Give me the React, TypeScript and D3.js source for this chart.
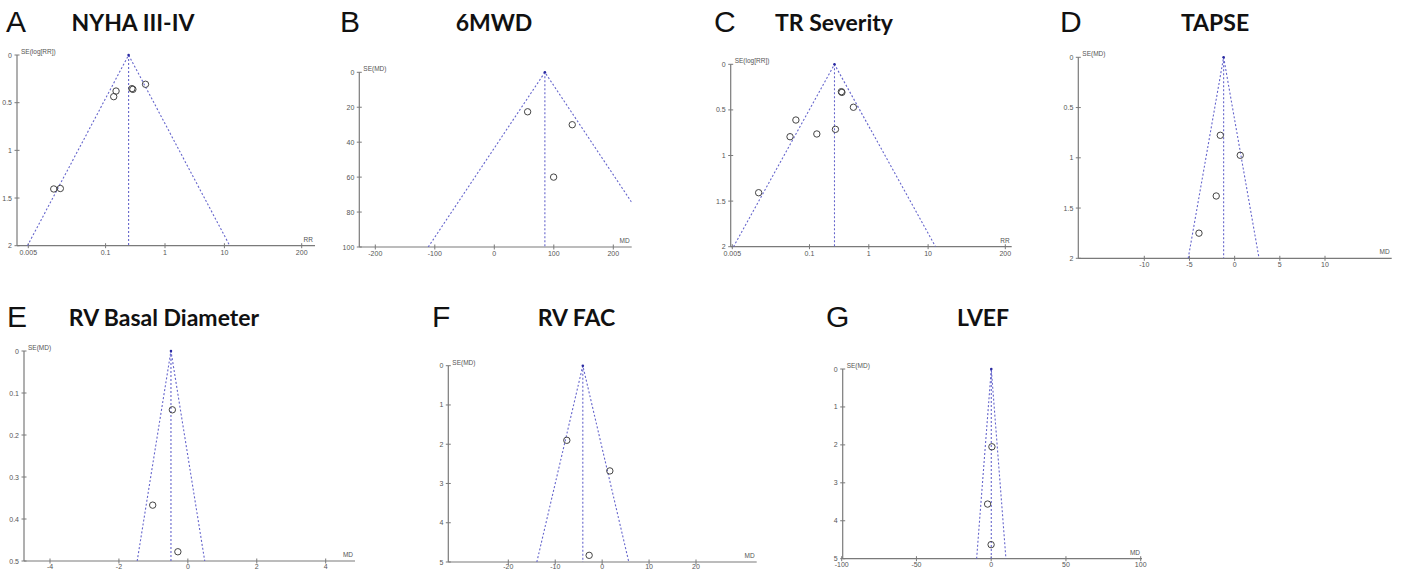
import React from "react";
import * as d3 from "d3";

// ---------- DATA ----------
const nyhaRR = [0.0134, 0.0173, 0.137, 0.15, 0.277, 0.288, 0.47];
const nyhaSE = [1.405, 1.4, 0.437, 0.378, 0.353, 0.36, 0.307];
const nyhaCenter = 0.244;

const mwdMD = [56, 131, 99.7];
const mwdSE = [22.6, 30, 60];
const mwdCenter = 85;

const trRR = [0.0139, 0.047, 0.059, 0.133, 0.274, 0.345, 0.352, 0.55];
const trSE = [1.408, 0.794, 0.611, 0.764, 0.713, 0.3, 0.308, 0.471];
const trCenter = 0.264;

const tapseMD = [-1.59, 0.62, -2.04, -3.95];
const tapseSE = [0.776, 0.975, 1.38, 1.75];
const tapseCenter = -1.22;

const rvbdMD = [-0.45, -1.02, -0.29];
const rvbdSE = [0.14, 0.367, 0.478];
const rvbdCenter = -0.49;

const facMD = [-7.53, 1.64, -2.77];
const facSE = [1.9, 2.68, 4.83];
const facCenter = -4.12;

const lvefMD = [0.47, -2.4, -0.07];
const lvefSE = [2.05, 3.56, 4.63];
const lvefCenter = 0.05;

const logTicks = [0.005, 0.1, 1, 10, 200];
const logTickLabels = ["0.005", "0.1", "1", "10", "200"];
const seTicks2 = [0, 0.5, 1, 1.5, 2];
const mwdXTicks = [-200, -100, 0, 100, 200];
const mwdYTicks = [0, 20, 40, 60, 80, 100];
const tapseXTicks = [-10, -5, 0, 5, 10];
const rvbdXTicks = [-4, -2, 0, 2, 4];
const rvbdYTicks = [0, 0.1, 0.2, 0.3, 0.4, 0.5];
const facXTicks = [-20, -10, 0, 10, 20];
const seTicks5 = [0, 1, 2, 3, 4, 5];
const lvefXTicks = [-100, -50, 0, 50, 100];

// ---------- LAYOUT ----------
type PanelCfg = {
  letter: string;
  letterX: number;
  baseY: number;
  title: string;
  titleX: number;
  log: boolean;
  xDomain: [number, number];
  xRange: [number, number];
  axisX0: number;
  axisX1: number;
  yDomain: [number, number];
  yRange: [number, number];
  xTicks: number[];
  xTickLabels?: string[];
  yTicks: number[];
  yLabel: string;
  xLabel: string;
  center: number;
  xs: number[];
  ses: number[];
  id: string;
  tickLabelDy: number;
};

const panels: PanelCfg[] = [
  {
    id: "A", letter: "A", letterX: 6, baseY: 32, title: "NYHA III-IV", titleX: 133, log: true,
    xDomain: [0.005, 200], xRange: [28.3, 301.7], axisX0: 17, axisX1: 315,
    yDomain: [0, 2], yRange: [55, 245.7], xTicks: logTicks, xTickLabels: logTickLabels, yTicks: seTicks2,
    yLabel: "SE(log[RR])", xLabel: "RR", center: nyhaCenter, xs: nyhaRR, ses: nyhaSE, tickLabelDy: 9,
  },
  {
    id: "B", letter: "B", letterX: 340, baseY: 32, title: "6MWD", titleX: 494, log: false,
    xDomain: [-200, 200], xRange: [375.3, 613.3], axisX0: 359.3, axisX1: 631.7,
    yDomain: [0, 100], yRange: [72.3, 247], xTicks: mwdXTicks, yTicks: mwdYTicks,
    yLabel: "SE(MD)", xLabel: "MD", center: mwdCenter, xs: mwdMD, ses: mwdSE, tickLabelDy: 9,
  },
  {
    id: "C", letter: "C", letterX: 714, baseY: 32, title: "TR Severity", titleX: 834, log: true,
    xDomain: [0.005, 200], xRange: [732.3, 1005.3], axisX0: 730.7, axisX1: 1011.7,
    yDomain: [0, 2], yRange: [64.3, 246.7], xTicks: logTicks, xTickLabels: logTickLabels, yTicks: seTicks2,
    yLabel: "SE(log[RR])", xLabel: "RR", center: trCenter, xs: trRR, ses: trSE, tickLabelDy: 9,
  },
  {
    id: "D", letter: "D", letterX: 1060, baseY: 32, title: "TAPSE", titleX: 1215, log: false,
    xDomain: [-10, 10], xRange: [1144.3, 1325], axisX0: 1078.3, axisX1: 1391.7,
    yDomain: [0, 2], yRange: [57.3, 258.3], xTicks: tapseXTicks, yTicks: seTicks2,
    yLabel: "SE(MD)", xLabel: "MD", center: tapseCenter, xs: tapseMD, ses: tapseSE, tickLabelDy: 9,
  },
  {
    id: "E", letter: "E", letterX: 7, baseY: 327, title: "RV Basal Diameter", titleX: 164, log: false,
    xDomain: [-4, 4], xRange: [50, 325.7], axisX0: 24, axisX1: 355,
    yDomain: [0, 0.5], yRange: [351, 561], xTicks: rvbdXTicks, yTicks: rvbdYTicks,
    yLabel: "SE(MD)", xLabel: "MD", center: rvbdCenter, xs: rvbdMD, ses: rvbdSE, tickLabelDy: 7.5,
  },
  {
    id: "F", letter: "F", letterX: 432, baseY: 327, title: "RV FAC", titleX: 576.5, log: false,
    xDomain: [-20, 20], xRange: [508.3, 696], axisX0: 448.3, axisX1: 756.7,
    yDomain: [0, 5], yRange: [365.7, 562], xTicks: facXTicks, yTicks: seTicks5,
    yLabel: "SE(MD)", xLabel: "MD", center: facCenter, xs: facMD, ses: facSE, tickLabelDy: 7,
  },
  {
    id: "G", letter: "G", letterX: 826, baseY: 327, title: "LVEF", titleX: 983, log: false,
    xDomain: [-100, 100], xRange: [841.7, 1140.7], axisX0: 842.7, axisX1: 1142,
    yDomain: [0, 5], yRange: [369, 558.7], xTicks: lvefXTicks, yTicks: seTicks5,
    yLabel: "SE(MD)", xLabel: "MD", center: lvefCenter, xs: lvefMD, ses: lvefSE, tickLabelDy: 8,
  },
];

const AXIS = "#7a7a7a";
const TICKTXT = "#555";
const DASH = "#6565cc";

function Panel({ p }: { p: PanelCfg }) {
  const x = p.log
    ? d3.scaleLog().domain(p.xDomain).range(p.xRange)
    : d3.scaleLinear().domain(p.xDomain).range(p.xRange);
  const y = d3.scaleLinear().domain(p.yDomain).range(p.yRange);
  const seMax = p.yDomain[1];
  const bound = (se: number, sgn: number) =>
    p.log ? p.center * Math.exp(sgn * 1.96 * se) : p.center + sgn * 1.96 * se;
  const line = d3
    .line<[number, number]>()
    .x((d) => x(d[0]))
    .y((d) => y(d[1]));
  const tri: [number, number][] = [
    [bound(seMax, -1), seMax],
    [p.center, 0],
    [bound(seMax, 1), seMax],
  ];
  const vert: [number, number][] = [
    [p.center, 0],
    [p.center, seMax],
  ];
  const y0 = y(p.yDomain[0]);
  const y1 = y(p.yDomain[1]);
  const clipId = "clip" + p.id;
  const fmt = (v: number) => String(v);
  return (
    <g>
      <text x={p.letterX} y={p.baseY} fontFamily="Liberation Sans, Arial, sans-serif" fontSize={30} fill="#111">
        {p.letter}
      </text>
      <text x={p.titleX} y={p.baseY - 1} textAnchor="middle" fontFamily="Lato, sans-serif" fontWeight={700} fontSize={23} fill="#111">
        {p.title}
      </text>
      <defs>
        <clipPath id={clipId}>
          <rect x={p.axisX0} y={y0 - 2} width={p.axisX1 - p.axisX0} height={y1 - y0 + 2} />
        </clipPath>
      </defs>
      {/* axes */}
      <line x1={p.axisX0} x2={p.axisX0} y1={y0} y2={y1} stroke={AXIS} strokeWidth={1.2} />
      <line x1={p.axisX0} x2={p.axisX1} y1={y1} y2={y1} stroke={AXIS} strokeWidth={1.2} />
      {p.yTicks.map((t) => (
        <g key={"y" + t}>
          <line x1={p.axisX0 - 2.5} x2={p.axisX0 + 2.5} y1={y(t)} y2={y(t)} stroke={AXIS} strokeWidth={1} />
          <text x={p.axisX0 - 5} y={y(t) + 2.5} textAnchor="end" fontFamily="Liberation Sans, Arial, sans-serif" fontSize={7} fill={TICKTXT}>
            {fmt(t)}
          </text>
        </g>
      ))}
      {p.xTicks.map((t, i) => (
        <g key={"x" + t}>
          <line x1={x(t)} x2={x(t)} y1={y1 - 2.5} y2={y1 + 2.5} stroke={AXIS} strokeWidth={1} />
          <text x={x(t)} y={y1 + p.tickLabelDy} textAnchor="middle" fontFamily="Liberation Sans, Arial, sans-serif" fontSize={7} fill={TICKTXT}>
            {p.xTickLabels ? p.xTickLabels[i] : fmt(t)}
          </text>
        </g>
      ))}
      <text x={p.axisX0 + 4} y={y0 - 1} fontFamily="Liberation Sans, Arial, sans-serif" fontSize={6.5} fill={TICKTXT}>
        {p.yLabel}
      </text>
      <text x={p.axisX1 - 2} y={y1 - 4} textAnchor="end" fontFamily="Liberation Sans, Arial, sans-serif" fontSize={6.5} fill={TICKTXT}>
        {p.xLabel}
      </text>
      {/* funnel */}
      <g clipPath={`url(#${clipId})`}>
        <path d={line(tri) || ""} fill="none" stroke={DASH} strokeWidth={1.1} strokeDasharray="2,2" />
        <path d={line(vert) || ""} fill="none" stroke={DASH} strokeWidth={1.1} strokeDasharray="2,2" />
      </g>
      <circle cx={x(p.center)} cy={y0} r={1.3} fill="#2a2aa0" />
      {p.xs.map((v, i) => (
        <circle key={i} cx={x(v)} cy={y(p.ses[i])} r={3.2} fill="none" stroke="#444" strokeWidth={1} />
      ))}
    </g>
  );
}

export default function App() {
  return (
    <svg width={1407} height={570} style={{ position: "absolute", left: 0, top: 0, background: "#fff" }}>
      <rect width={1407} height={570} fill="#fff" />
      {panels.map((p) => (
        <Panel key={p.id} p={p} />
      ))}
    </svg>
  );
}
